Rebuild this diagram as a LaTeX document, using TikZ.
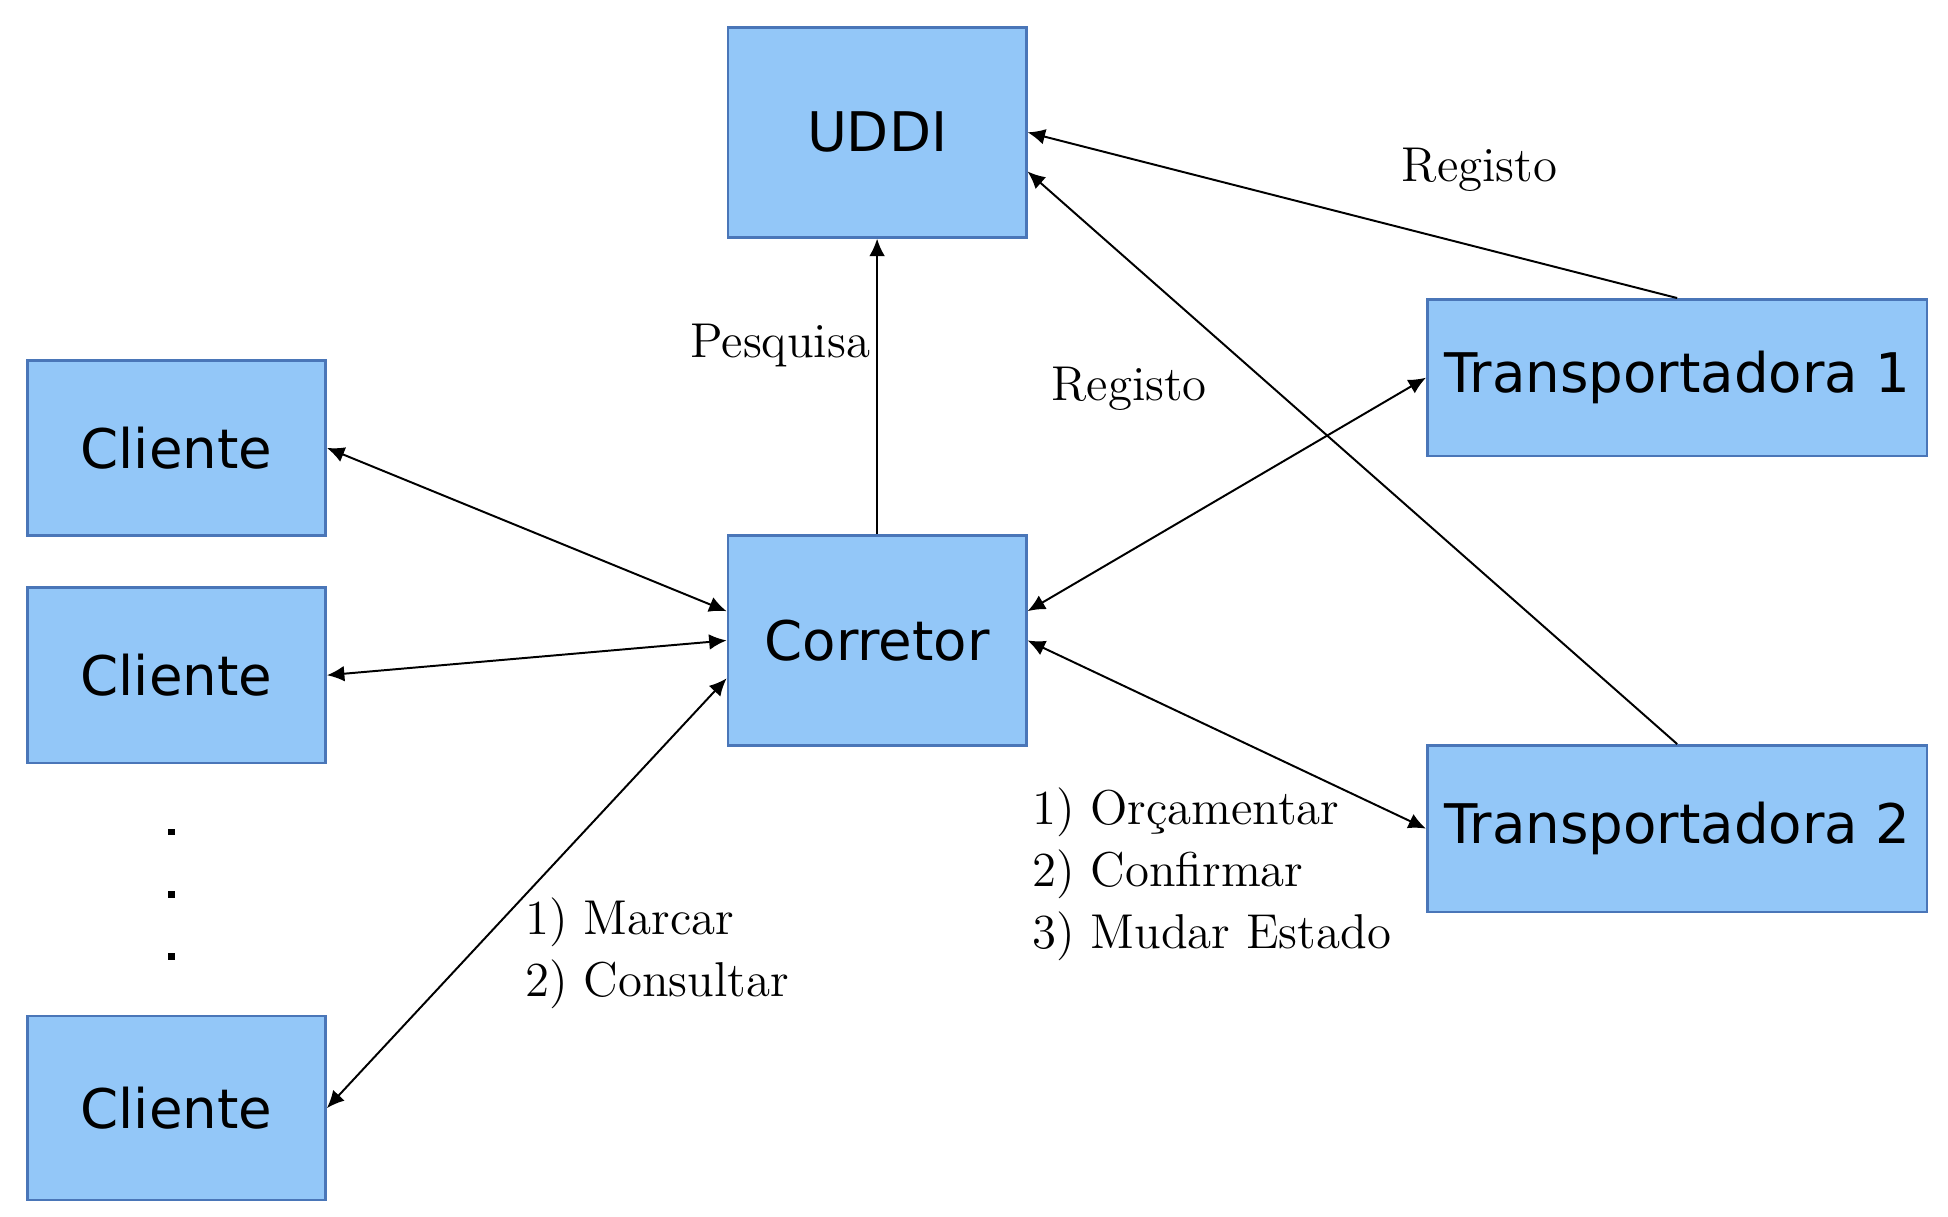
\documentclass[tikz,border=0pt]{standalone}
\usepackage{fontspec}
\usetikzlibrary{arrows.meta}
\newfontfamily\boxfont{DejaVu Sans}
\definecolor{boxfill}{HTML}{93C7F8}
\definecolor{boxline}{HTML}{4A76B8}
\begin{document}
\begin{tikzpicture}[x=0.01cm, y=-0.01cm,
        entity/.style={draw=boxline, fill=boxfill, line width=0.6pt, inner sep=0pt,
            font=\boxfont\fontsize{12.5}{14}\selectfont},
        note/.style={font=\fontsize{11.2}{14.2}\selectfont, inner sep=0pt},
        link/.style={line width=0.45pt, {Latex[length=4pt,width=3.6pt]}-{Latex[length=4pt,width=3.6pt]}},
        uplink/.style={line width=0.45pt, -{Latex[length=4pt,width=3.6pt]}},
        dotmark/.style={fill=black, inner sep=0pt, minimum size=0.05cm}]
            \useasboundingbox (0, 0) rectangle (1568, 979);
            \node[entity, minimum width=2.4cm, minimum height=1.69cm] (uddi) at (706, 106.5) {UDDI};
            \node[entity, minimum width=2.4cm, minimum height=1.69cm] (corretor) at (706, 515.5) {Corretor};
            \node[entity, minimum width=2.4cm, minimum height=1.41cm] (cliA) at (142, 360.5) {Cliente};
            \node[entity, minimum width=2.4cm, minimum height=1.41cm] (cliB) at (142, 543.5) {Cliente};
            \node[entity, minimum width=2.4cm, minimum height=1.48cm] (cliC) at (142, 892) {Cliente};
            \node[entity, minimum width=4.02cm, minimum height=1.26cm] (transA) at (1350, 304) {Transportadora 1};
            \node[entity, minimum width=4.02cm, minimum height=1.34cm] (transB) at (1350, 667) {Transportadora 2};
            \node[dotmark] (dotA) at (138, 670) {};
            \node[dotmark] (dotB) at (138, 720) {};
            \node[dotmark] (dotC) at (138, 770) {};
            \draw[link] (cliA.east) -- ([yshift=0.235cm]corretor.west);
            \draw[link] (cliB.east) -- (corretor.west);
            \draw[link] (cliC.east) -- ([yshift=-0.305cm]corretor.west);
            \draw[uplink] (corretor.north) -- (uddi.south);
            \draw[uplink] (transA.north) -- (uddi.east);
            \draw[uplink] (transB.north) -- ([yshift=-0.315cm]uddi.east);
            \draw[link] ([yshift=0.235cm]corretor.east) -- (transA.west);
            \draw[link] (corretor.east) -- (transB.west);
            \node[note] (pesquisa) at (628, 278) {Pesquisa};
            \node[note] (registoA) at (909, 313) {Registo};
            \node[note] (registoB) at (1191, 137) {Registo};
            \node[note, anchor=west, align=left] (clientOps) at (422, 767) {1) Marcar\\2) Consultar};
            \node[note, anchor=west, align=left] (transOps) at (830, 704) {1) Orçamentar\\2) Confirmar\\3) Mudar Estado};
        \end{tikzpicture}
\end{document}
